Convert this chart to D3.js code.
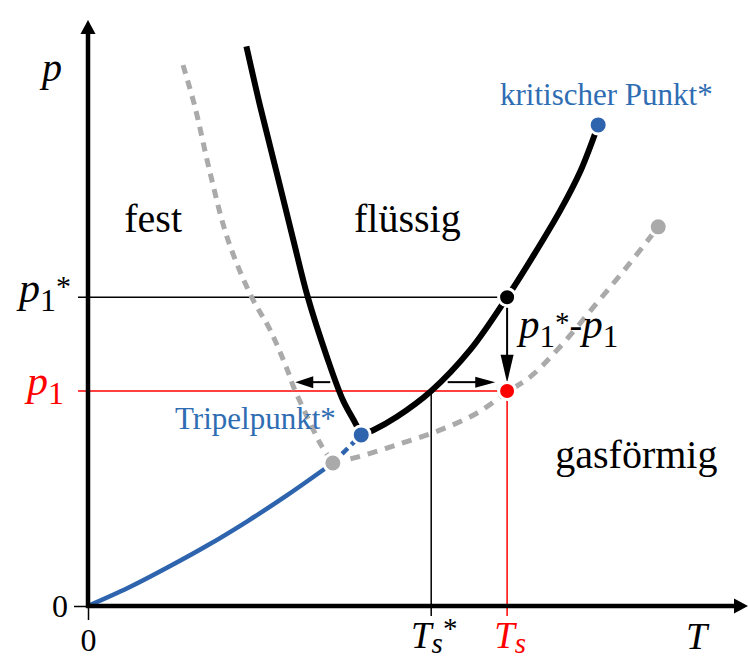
<!DOCTYPE html>
<html><head><meta charset="utf-8">
<script src="https://cdn.jsdelivr.net/npm/d3@7/dist/d3.min.js"></script>
<style>
html,body{margin:0;padding:0;background:#fff;}
svg{display:block;}
svg text, svg tspan{font-family:"Liberation Serif","Times New Roman",serif;}
</style></head>
<body><svg id="c" width="748" height="659"></svg>
<script>
// ---- data (T, p) in arbitrary units ----
const meltCurve = [[24.0,95.5],[26.1,85.2],[28.6,73.9],[31.1,62.5],[33.3,52.7],[36.2,42.5],[38.6,35.2],[40.5,31.2],[41.4,29.2]];
const vaporCurve = [[41.4,29.2],[43.2,30.0],[46.8,32.3],[52.0,36.7],[57.9,43.7],[63.5,52.7],[67.6,60.0],[71.6,67.6],[74.6,74.2],[77.3,82.1]];
const grayLeft = [[14.4,92.3],[16.2,85.2],[18.5,73.9],[21.2,62.5],[24.8,52.7],[27.6,47.1],[30.2,40.3],[31.1,37.5],[33.2,32.3],[35.3,27.5],[37.1,24.4]];
const grayRight = [[37.1,24.4],[40.8,25.4],[46.8,27.5],[53.3,30.0],[58.9,32.9],[63.5,36.5],[67.0,39.1],[71.1,43.7],[77.1,51.7],[82.1,58.5],[86.4,64.7]];
const blueSolid = [[0,0],[6.1,3.1],[12.1,6.6],[18.2,10.4],[24.2,14.5],[30.3,19.0],[37.1,24.4]];
const blueDashed = [[37.1,24.4],[41.4,29.2]];
const triplePoint = [41.4,29.2];
const criticalPoint = [77.3,82.1];
const grayTriple = [37.1,24.4];
const grayCritical = [86.4,64.7];
const p1Star = 52.7, p1 = 36.7, TsStar = 52.0, Ts = 63.5;
const arrowY = 38.2;
const arrows = [
  {from:[36.7,arrowY], to:[31.4,arrowY], len:18, w:12},
  {from:[54.5,arrowY], to:[61.7,arrowY], len:20, w:11},
  {from:[63.5,50.9], to:[63.5,38.1], len:28, w:13}
];
const regionLabels = [
  {text:"fest", T:5.5, p:63.8},
  {text:"flüssig", T:40.3, p:63.8},
  {text:"gasförmig", T:70.8, p:23.5}
];

// ---- scales ----
const x = d3.scaleLinear().domain([0,100]).range([88,748]);
const y = d3.scaleLinear().domain([0,100]).range([606,20]);
const svg = d3.select("#c");
const FONT = "'Liberation Serif','Times New Roman',serif";
const blue="#2e64ae", blueText="#2f6db3", gray="#aaaaaa", red="#ff0000";

const line = d3.line().x(d=>x(d[0])).y(d=>y(d[1])).curve(d3.curveCatmullRom.alpha(0.5));

// thin guide lines
svg.append("line").attr("x1",x(0)-10).attr("x2",x(Ts)).attr("y1",y(p1Star)).attr("y2",y(p1Star)).attr("stroke","#000").attr("stroke-width",1.5);
svg.append("line").attr("x1",x(0)-10).attr("x2",x(Ts)).attr("y1",y(p1)).attr("y2",y(p1)).attr("stroke",red).attr("stroke-width",1.5);
svg.append("line").attr("x1",x(TsStar)).attr("x2",x(TsStar)).attr("y1",y(p1)).attr("y2",y(0)+10).attr("stroke","#000").attr("stroke-width",1.5);
svg.append("line").attr("x1",x(Ts)).attr("x2",x(Ts)).attr("y1",y(p1)).attr("y2",y(0)+10).attr("stroke",red).attr("stroke-width",1.5);

// curves
svg.append("path").datum(grayLeft).attr("d",line).attr("fill","none").attr("stroke",gray).attr("stroke-width",5).attr("stroke-dasharray","9,7");
svg.append("path").datum(grayRight).attr("d",line).attr("fill","none").attr("stroke",gray).attr("stroke-width",5).attr("stroke-dasharray","10,8");
svg.append("path").datum(blueSolid).attr("d",line).attr("fill","none").attr("stroke",blue).attr("stroke-width",4.5);
svg.append("path").datum(blueDashed).attr("d",line).attr("fill","none").attr("stroke",blue).attr("stroke-width",4.5).attr("stroke-dasharray","8,5");
svg.append("path").datum(meltCurve).attr("d",line).attr("fill","none").attr("stroke","#000").attr("stroke-width",6);
svg.append("path").datum(vaporCurve).attr("d",line).attr("fill","none").attr("stroke","#000").attr("stroke-width",6);

// arrows
arrows.forEach(a=>{
  const x1=x(a.from[0]),y1=y(a.from[1]),x2=x(a.to[0]),y2=y(a.to[1]);
  const dx=x2-x1,dy=y2-y1,L=Math.hypot(dx,dy),ux=dx/L,uy=dy/L;
  const bx=x2-ux*a.len,by=y2-uy*a.len;
  svg.append("line").attr("x1",x1).attr("y1",y1).attr("x2",bx+ux*2).attr("y2",by+uy*2).attr("stroke","#000").attr("stroke-width",2);
  svg.append("path").attr("d",`M${x2},${y2}L${bx-uy*a.w/2},${by+ux*a.w/2}L${bx+uy*a.w/2},${by-ux*a.w/2}Z`).attr("fill","#000");
});

// points
const pts=[{p:grayTriple,c:gray,r:9},{p:grayCritical,c:gray,r:9},{p:triplePoint,c:blue,r:9},{p:criticalPoint,c:blue,r:9},{p:[Ts,p1Star],c:"#000",r:8.5},{p:[Ts,p1],c:red,r:8.5}];
svg.selectAll("circle.pt").data(pts).enter().append("circle").attr("class","pt")
  .attr("cx",d=>x(d.p[0])).attr("cy",d=>y(d.p[1])).attr("r",d=>d.r).attr("fill",d=>d.c).attr("stroke","#fff").attr("stroke-width",3);

// axes
const axLeft = svg.append("g").attr("transform",`translate(${x(0)},0)`).call(d3.axisLeft(y).tickValues([0]).tickSize(14).tickFormat(d3.format("d")));
const axBottom = svg.append("g").attr("transform",`translate(0,${y(0)})`).call(d3.axisBottom(x).tickValues([0]).tickSize(14).tickFormat(d3.format("d")));
[axLeft,axBottom].forEach(g=>{g.attr("font-family",FONT);g.select(".domain").remove();g.selectAll(".tick line").attr("stroke","#000").attr("stroke-width",1.5);g.selectAll(".tick text").attr("font-family",FONT).attr("font-size",32).attr("fill","#000");});
axLeft.selectAll(".tick text").attr("x",-20).attr("dy","0.33em");
axBottom.selectAll(".tick text").attr("y",22).attr("dy","0.71em");

svg.append("line").attr("x1",x(0)).attr("x2",x(0)).attr("y1",y(0)+2).attr("y2",y(100)+12).attr("stroke","#000").attr("stroke-width",4.5);
svg.append("path").attr("d",`M${x(0)},${y(100)}L${x(0)-7.5},${y(100)+14}L${x(0)+7.5},${y(100)+14}Z`).attr("fill","#000");
svg.append("line").attr("x1",x(0)-2).attr("x2",x(100)-12).attr("y1",y(0)).attr("y2",y(0)).attr("stroke","#000").attr("stroke-width",4.5);
svg.append("path").attr("d",`M${x(100)},${y(0)}L${x(100)-14},${y(0)-7.5}L${x(100)-14},${y(0)+7.5}Z`).attr("fill","#000");

function T(){ return svg.append("text").attr("font-family",FONT); }

// axis titles
T().attr("x",42).attr("y",81).attr("font-size",40).attr("font-style","italic").text("p");
T().attr("x",686).attr("y",649).attr("font-size",38).attr("font-style","italic").text("T");

// p1* and p1 labels
function pLabel(xp,yb,color,star){
  const t=T().attr("x",xp).attr("y",yb).attr("fill",color).attr("font-size",42);
  t.append("tspan").attr("font-style","italic").text("p");
  t.append("tspan").attr("font-size",32).attr("dy",9).text("1");
  if(star) t.append("tspan").attr("font-size",30).attr("dy",-15).text("*");
}
pLabel(19,302,"#000",true);
pLabel(27,395,red,false);

// Ts labels
function tLabel(xc,color,star){
  const t=T().attr("x",xc).attr("y",648).attr("fill",color).attr("font-size",37).attr("text-anchor","middle");
  t.append("tspan").attr("font-style","italic").text("T");
  t.append("tspan").attr("font-style","italic").attr("font-size",29).attr("dy",5).text("s");
  if(star) t.append("tspan").attr("font-size",29).attr("dy",-15).text("*");
}
tLabel(x(TsStar)+3,"#000",true);
tLabel(x(Ts)+3,red,false);

// p1*-p1 label
{
  const t=T().attr("x",x(Ts)+12).attr("y",338).attr("font-size",41);
  t.append("tspan").attr("font-style","italic").text("p");
  t.append("tspan").attr("font-size",31).attr("dy",9).text("1");
  t.append("tspan").attr("font-size",29).attr("dy",-15).text("*");
  t.append("tspan").attr("font-size",38).attr("dy",6).text("-");
  t.append("tspan").attr("font-style","italic").attr("font-size",41).attr("dy",0).text("p");
  t.append("tspan").attr("font-size",31).attr("dy",9).text("1");
}

// region labels
svg.selectAll("text.region").data(regionLabels).enter().append("text").attr("class","region")
  .attr("font-family",FONT).attr("x",d=>x(d.T)).attr("y",d=>y(d.p)).attr("font-size",40).text(d=>d.text);

// point labels
T().attr("x",500).attr("y",105).attr("font-size",31).attr("fill",blueText).text("kritischer Punkt*");
T().attr("x",175).attr("y",429).attr("font-size",31).attr("fill",blueText).text("Tripelpunkt*");
</script></body></html>
